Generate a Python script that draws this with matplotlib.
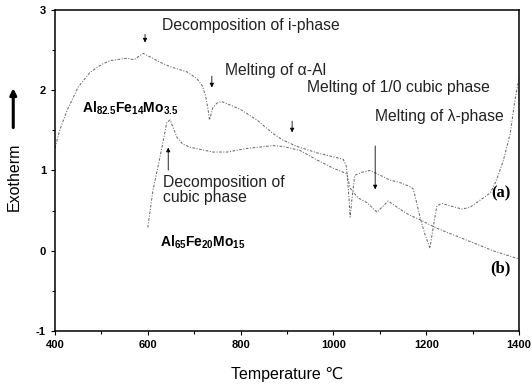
import matplotlib
matplotlib.use("Agg")
import matplotlib.pyplot as plt
from matplotlib.ticker import MultipleLocator

plt.rcParams['font.family'] = ['Liberation Sans', 'DejaVu Sans']
plt.rcParams['mathtext.default'] = 'regular'
plt.rcParams['axes.unicode_minus'] = False

# DTA traces
temp_a = [400, 410, 426, 450, 475, 500, 519, 555, 570, 590, 610, 626, 650, 684,
          705, 717, 725, 730, 733, 740, 749, 759, 784, 800, 835, 870, 891, 921,
          965, 1000, 1021, 1028, 1033, 1036, 1040, 1046, 1062, 1079, 1094, 1122,
          1143, 1165, 1172, 1176, 1187, 1197, 1208, 1215, 1223, 1234, 1251, 1277,
          1294, 1316, 1338, 1350, 1366, 1381, 1391, 1400]
exo_a = [1.28, 1.50, 1.75, 2.04, 2.22, 2.32, 2.37, 2.40, 2.38, 2.46, 2.40, 2.35,
         2.29, 2.23, 2.15, 2.06, 1.92, 1.75, 1.63, 1.78, 1.84, 1.86, 1.80, 1.76,
         1.63, 1.46, 1.38, 1.30, 1.22, 1.17, 1.14, 1.05, 0.70, 0.42, 0.65, 0.94,
         0.98, 1.00, 0.96, 0.88, 0.85, 0.80, 0.77, 0.68, 0.41, 0.21, 0.03, 0.29,
         0.56, 0.59, 0.56, 0.52, 0.54, 0.63, 0.72, 0.86, 1.12, 1.46, 1.87, 2.15]

temp_b = [600, 611, 626, 641, 648, 663, 675, 691, 740, 771, 814, 870, 891, 928,
          965, 999, 1029, 1036, 1053, 1072, 1094, 1118, 1143, 1165, 1182, 1223,
          1288, 1344, 1398]
exo_b = [0.29, 0.75, 1.16, 1.60, 1.63, 1.41, 1.33, 1.29, 1.23, 1.23, 1.275, 1.31,
         1.30, 1.25, 1.13, 1.03, 0.96, 0.78, 0.66, 0.60, 0.48, 0.62, 0.52, 0.44,
         0.40, 0.28, 0.13, 0.00, -0.10]

fig = plt.figure(figsize=(5.32, 3.85), dpi=100)
ax = fig.add_axes([0.1034, 0.1403, 0.8722, 0.8337])

ax.plot(temp_a, exo_a, color='#6a6a6a', lw=0.75, ls=(0, (2.5, 1.5, 1, 1.5)))
ax.plot(temp_b, exo_b, color='#6a6a6a', lw=0.75, ls=(0, (2.5, 1.5, 1, 1.5)))

ax.set_xlim(400, 1400)
ax.set_ylim(-1, 3)
ax.xaxis.set_major_locator(MultipleLocator(200))
ax.xaxis.set_minor_locator(MultipleLocator(100))
ax.yaxis.set_major_locator(MultipleLocator(1))
ax.yaxis.set_minor_locator(MultipleLocator(0.5))
ax.tick_params(which='both', direction='out', width=0.8, labelsize=8)
ax.tick_params(which='major', length=3)
ax.tick_params(which='minor', length=2)
for lab in ax.get_xticklabels() + ax.get_yticklabels():
    lab.set_fontweight('bold')
for sp in ax.spines.values():
    sp.set_linewidth(1.1)

ax.set_xlabel('Temperature ℃', fontsize=11.5, labelpad=12)
ax.set_ylabel('Exotherm', fontsize=11.5)
ax.yaxis.set_label_coords(-0.072, 0.48)

# thick arrow above the y label
ax.annotate('', xy=(-0.09, 0.765), xytext=(-0.09, 0.625), xycoords='axes fraction',
            arrowprops=dict(arrowstyle='-|>', lw=2.2, color='k', mutation_scale=9),
            annotation_clip=False)

fs = 11.3
tc = '#222222'
arrow = dict(arrowstyle='-|>', lw=0.6, color='k', mutation_scale=6)

ax.text(631, 2.81, 'Decomposition of i-phase', fontsize=fs, va='center', color=tc)
ax.annotate('', xy=(594, 2.56), xytext=(594, 2.73), arrowprops=arrow)

ax.text(766, 2.25, 'Melting of α-Al', fontsize=fs, va='center', color=tc)
ax.annotate('', xy=(738, 2.0), xytext=(738, 2.21), arrowprops=arrow)

ax.text(943, 2.03, 'Melting of 1/0 cubic phase', fontsize=fs, va='center', color=tc)
ax.annotate('', xy=(911, 1.44), xytext=(911, 1.65), arrowprops=arrow)

ax.text(1090, 1.67, 'Melting of λ-phase', fontsize=fs, va='center', color=tc)
ax.annotate('', xy=(1090, 0.73), xytext=(1090, 1.34), arrowprops=arrow)

ax.text(633, 0.755, 'Decomposition of\ncubic phase', fontsize=fs, va='center',
        linespacing=1.0, color=tc)
ax.annotate('', xy=(644, 1.32), xytext=(644, 0.97), arrowprops=arrow)

ax.text(458, 1.78, 'Al$_{82.5}$Fe$_{14}$Mo$_{3.5}$', fontsize=10, va='center',
        fontweight='bold')
ax.text(626, 0.105, 'Al$_{65}$Fe$_{20}$Mo$_{15}$', fontsize=10, va='center',
        fontweight='bold')

ax.text(1361, 0.72, '(a)', fontsize=12, ha='center', va='center',
        family='Liberation Serif', fontweight='bold')
ax.text(1361, -0.22, '(b)', fontsize=12, ha='center', va='center',
        family='Liberation Serif', fontweight='bold')

fig.savefig('out.png', dpi=100)
